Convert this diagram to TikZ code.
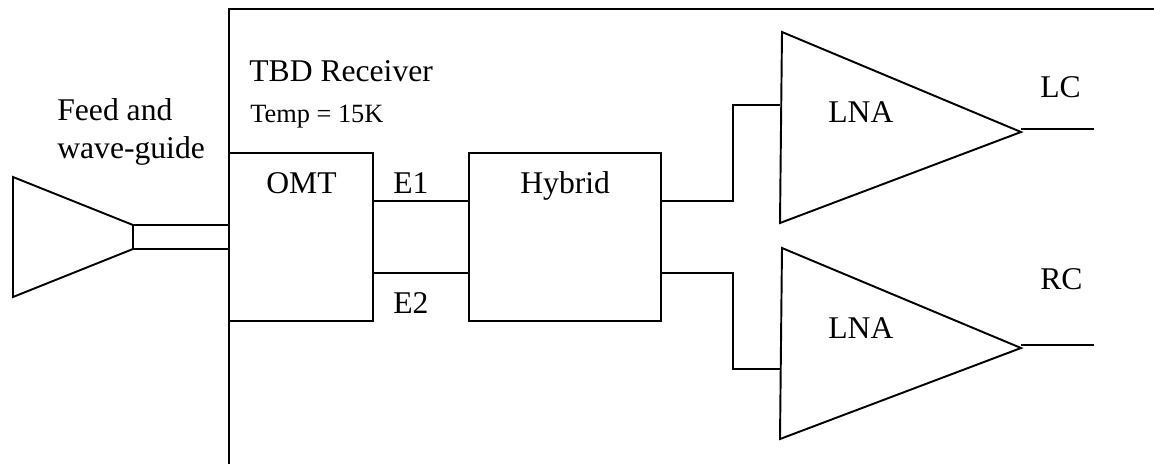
\documentclass[tikz,border=0pt]{standalone}
\usepackage{fontspec}
\setmainfont{Liberation Serif}
\usetikzlibrary{positioning}
\tikzstyle{blockbox}=[rectangle,draw,line width=1.1pt,minimum height=3.36cm,inner sep=0pt]
\tikzstyle{wire} = [draw,line width=1.1pt,line join=miter]
\tikzstyle{biglabel} = [font=\fontsize{18}{21.6}\selectfont,anchor=base west,inner sep=0pt,align=left]
\tikzstyle{smalllabel} = [font=\fontsize{15}{18}\selectfont,anchor=base west,inner sep=0pt]

\begin{document}
\begin{tikzpicture}[x=0.02cm,y=-0.02cm]

  \useasboundingbox (0,0) rectangle (1154,464);

  % receiver outline
  \coordinate (RxBottom) at (229,464);
  \coordinate (RxCorner) at (229,9);
  \coordinate (RxRight) at (1154,9);
  \path[wire] (RxBottom) -- (RxCorner) -- (RxRight);

  \node[blockbox,minimum width=2.88cm] (OMT) at (301,237) {};
  \node[blockbox,minimum width=3.84cm] (Hybrid) at (565,237) {};

  % feed horn
  \foreach \x/\y/\name in {13/177/hornA, 13/297/hornB, 133/249/hornC, 133/225/hornD}
          \coordinate (\name) at (\x,\y);
  \path[wire] (hornA) -- (hornB) -- (hornC) -- (hornD) -- cycle;
  \coordinate (OMTup) at (OMT.west |- hornD);
  \coordinate (OMTdown) at (OMT.west |- hornC);
  \path[wire] (hornD) -- (OMTup);
  \path[wire] (hornC) -- (OMTdown);

  % E1, E2
  \path[wire] ([yshift=0.72cm]OMT.east) -- ([yshift=0.72cm]Hybrid.west);
  \path[wire] ([yshift=-0.72cm]OMT.east) -- ([yshift=-0.72cm]Hybrid.west);

  % amplifiers
  \foreach \dy/\name/\iny/\bendy in {0/LNAup/105/201, 216/LNAdown/369/273} {
          \coordinate (\name A) at (782,32+\dy);
          \coordinate (\name B) at (780,223+\dy);
          \coordinate (\name C) at (1021,132+\dy);
          \coordinate (\name In) at (780,\iny);
          \coordinate (\name Bend) at (733,\bendy);
          \coordinate (\name Start) at (Hybrid.east |- \name Bend);
          \coordinate (\name Out) at (1021,129+\dy);
          \coordinate (\name End) at (1094,129+\dy);
          \path[wire] (\name A) -- (\name B) -- (\name C) -- cycle;
          \path[wire] (\name Start) -- (\name Bend) |- (\name In);
          \path[wire] (\name Out) -- (\name End);
  }

  % labels
  \foreach \x/\y/\name/\label in {249/81/rxlabel/TBD Receiver, 266/193/omtlabel/OMT, 393/193/eonelabel/E1,
          393/313/etwolabel/E2, 520/193/hybridlabel/Hybrid, 828/122/lnaonelabel/LNA, 828/338/lnatwolabel/LNA,
          1040/97/lclabel/LC, 1040/289/rclabel/RC, 57/120/feedlabel/Feed and, 57/158/guidelabel/wave-guide}
          \node[biglabel] (\name) at (\x,\y) {\label};

  \node[smalllabel] (templabel) at (250,122) {Temp = 15K};

\end{tikzpicture}
\end{document}
